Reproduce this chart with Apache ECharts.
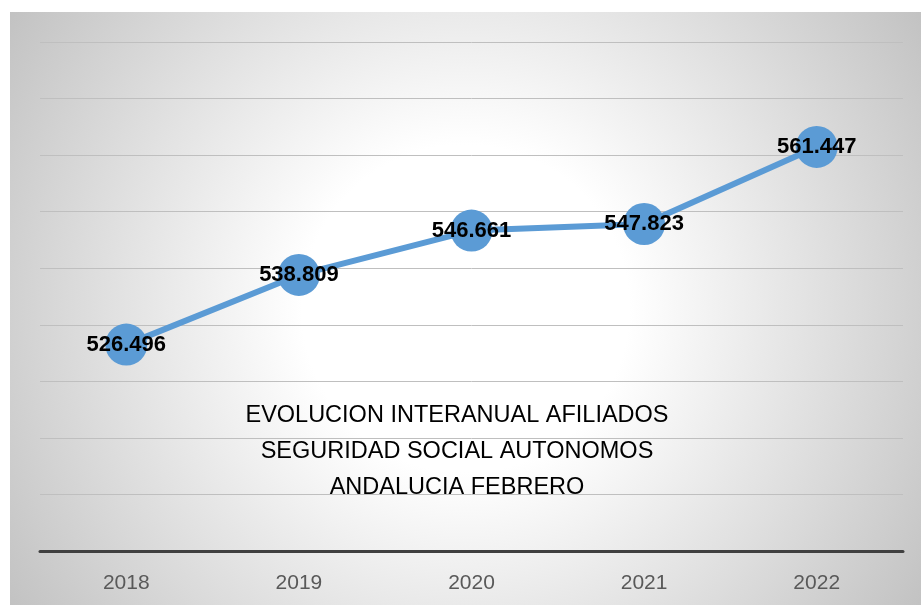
<!DOCTYPE html>
<html>
<head>
<meta charset="utf-8">
<script src="https://cdn.jsdelivr.net/npm/echarts@6/dist/echarts.min.js"></script>
<style>
  html, body { margin: 0; padding: 0; background: #fff; }
  #chart { width: 921px; height: 605px; }
</style>
</head>
<body>
<div id="chart"></div>
<script>
// años y afiliados (miles)
const years = ['2018', '2019', '2020', '2021', '2022'];
const afiliados = [526.496, 538.809, 546.661, 547.823, 561.447];
const titleLines = [
  'EVOLUCION INTERANUAL AFILIADOS',
  'SEGURIDAD SOCIAL AUTONOMOS',
  'ANDALUCIA FEBRERO'
];

const chart = echarts.init(document.getElementById('chart'));
const option = {
  backgroundColor: '#ffffff',
  animation: false,
  graphic: [
    {
      type: 'rect',
      z: -10,
      silent: true,
      shape: { x: 10, y: 12, width: 911, height: 593 },
      style: {
        fill: {
          type: 'radial',
          x: 0.5, y: 0.5, r: 0.92,
          colorStops: [
            { offset: 0, color: '#ffffff' },
            { offset: 0.3, color: '#ffffff' },
            { offset: 1, color: '#c2c2c2' }
          ]
        }
      }
    }
  ],
  title: {
    text: titleLines.join('\n'),
    left: 452,
    top: 393,
    textAlign: 'center',
    textStyle: {
      fontFamily: "'Liberation Sans', sans-serif",
      fontWeight: 'normal',
      fontSize: 23.5,
      lineHeight: 36,
      color: '#000000'
    }
  },
  grid: {
    left: 40,
    right: 18,
    top: 42,
    bottom: 54,
    containLabel: false
  },
  xAxis: {
    type: 'category',
    data: years,
    boundaryGap: true,
    axisLine: { lineStyle: { color: '#404040', width: 3 } },
    axisTick: { show: false },
    axisLabel: {
      color: '#595959',
      fontSize: 21,
      margin: 22,
      fontFamily: "'Liberation Sans', sans-serif"
    }
  },
  yAxis: {
    type: 'value',
    min: 490,
    max: 580,
    interval: 10,
    axisLine: { show: false },
    axisTick: { show: false },
    axisLabel: { show: false },
    splitLine: { lineStyle: { color: '#bfbfbf', width: 1 } }
  },
  series: [
    {
      type: 'line',
      data: afiliados,
      symbol: 'circle',
      symbolSize: 42,
      lineStyle: { color: '#5b9bd5', width: 6 },
      itemStyle: { color: '#5b9bd5' },
      label: {
        show: true,
        position: 'inside',
        color: '#000000',
        fontWeight: 'bold',
        fontSize: 22,
        fontFamily: "'Liberation Sans', sans-serif",
        formatter: function (p) { return p.value.toFixed(3); }
      }
    }
  ]
};
chart.setOption(option);
</script>
</body>
</html>
